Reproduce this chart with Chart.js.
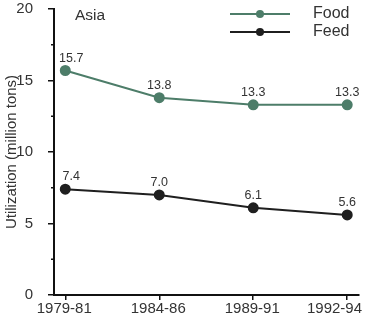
<!DOCTYPE html>
<html>
<head>
<meta charset="utf-8">
<script src="https://cdn.jsdelivr.net/npm/chart.js@4.4.1/dist/chart.umd.min.js"></script>
<style>
  html, body { margin: 0; padding: 0; background: #fff; }
  #wrap { width: 365px; height: 322px; }
</style>
</head>
<body>
<div id="wrap"><canvas id="chart" width="365" height="322"></canvas></div>
<script>
const periods = ['1979-81', '1984-86', '1989-91', '1992-94'];
const food = [15.7, 13.8, 13.3, 13.3];
const feed = [7.4, 7.0, 6.1, 5.6];
const yTicks = [0, 5, 10, 15, 20];

const foodColor = '#4d7d69';
const feedColor = '#1f1f1f';
const textColor = '#333';
const fontFamily = '"Liberation Sans", Arial, sans-serif';

function toPoints(arr) {
    return arr.map((v, i) => ({ x: i, y: v }));
}

// value labels, period labels, region label, short minor ticks and hand-placed legend
const annotate = {
    id: 'annotate',
    afterDatasetsDraw(chart) {
        const ctx = chart.ctx;
        const x = chart.scales.x;
        const y = chart.scales.y;
        ctx.save();

        // minor ticks on the y axis (halfway between the labelled ones)
        ctx.strokeStyle = '#111';
        ctx.lineWidth = 1.5;
        y.ticks.forEach(t => {
            if (yTicks.includes(t.value)) return;
            const py = y.getPixelForValue(t.value);
            ctx.beginPath();
            ctx.moveTo(y.right - 3, py);
            ctx.lineTo(y.right, py);
            ctx.stroke();
        });

        // period labels under the axis; the last one is kept inside the canvas
        ctx.fillStyle = textColor;
        ctx.font = '15px ' + fontFamily;
        ctx.textBaseline = 'middle';
        ctx.textAlign = 'center';
        periods.forEach((p, i) => {
            let px = x.getPixelForValue(i) - 1;
            const w = ctx.measureText(p).width;
            px = Math.min(px, chart.width - 3 - w / 2);
            ctx.fillText(p, px, x.top + 14);
        });

        ctx.font = '12.5px ' + fontFamily;
        ctx.textBaseline = 'bottom';
        chart.data.datasets.forEach((ds, di) => {
            chart.getDatasetMeta(di).data.forEach((pt, i) => {
                ctx.fillText(ds.data[i].y.toFixed(1), pt.x + (i === 0 ? 6 : 0), pt.y - 6);
            });
        });

        ctx.font = '15.5px ' + fontFamily;
        ctx.textAlign = 'left';
        ctx.textBaseline = 'middle';
        ctx.fillText('Asia', 75, 16);

        ctx.font = '16px ' + fontFamily;
        const items = [['Food', foodColor, 14], ['Feed', feedColor, 32]];
        items.forEach(([label, color, ly]) => {
            ctx.strokeStyle = color;
            ctx.lineWidth = 2;
            ctx.beginPath();
            ctx.moveTo(230, ly);
            ctx.lineTo(290, ly);
            ctx.stroke();
            ctx.fillStyle = color;
            ctx.beginPath();
            ctx.arc(260, ly, 4, 0, Math.PI * 2);
            ctx.fill();
            ctx.fillStyle = textColor;
            ctx.fillText(label, 313, ly);
        });
        ctx.restore();
    }
};

new Chart(document.getElementById('chart').getContext('2d'), {
    type: 'line',
    data: {
        datasets: [{
            label: 'Food',
            data: toPoints(food),
            borderColor: foodColor,
            backgroundColor: foodColor,
            borderWidth: 2,
            pointRadius: 4.5,
            fill: false
        }, {
            label: 'Feed',
            data: toPoints(feed),
            borderColor: feedColor,
            backgroundColor: feedColor,
            borderWidth: 2,
            pointRadius: 4.5,
            fill: false
        }]
    },
    options: {
        responsive: false,
        animation: false,
        layout: { padding: { top: 9, right: 6, left: 0, bottom: 0 } },
        plugins: {
            legend: { display: false },
            tooltip: { enabled: false }
        },
        scales: {
            x: {
                type: 'linear',
                min: -0.12,
                max: 3.12,
                afterBuildTicks: s => { s.ticks = periods.map((p, i) => ({ value: i })); },
                afterFit: s => { s.height = 27; s.paddingLeft = 0; s.paddingRight = 0; },
                ticks: { display: false },
                grid: { drawOnChartArea: false, drawTicks: true, tickLength: 5, color: '#111', lineWidth: 1.5 },
                border: { color: '#111', width: 2 }
            },
            y: {
                min: 0,
                max: 20,
                afterFit: s => { s.width = 54; s.paddingTop = 0; s.paddingBottom = 0; },
                ticks: {
                    stepSize: 2.5,
                    callback: v => yTicks.includes(v) ? v : '',
                    color: textColor,
                    font: { size: 15, family: fontFamily },
                    padding: 15
                },
                grid: {
                    drawOnChartArea: false,
                    drawTicks: true,
                    tickLength: 6,
                    color: ctx => (ctx.tick && yTicks.includes(ctx.tick.value)) ? '#111' : 'rgba(0,0,0,0)',
                    lineWidth: 1.5
                },
                border: { color: '#111', width: 2 },
                title: {
                    display: true,
                    text: 'Utilization (million tons)',
                    color: textColor,
                    font: { size: 15, family: fontFamily },
                    padding: { top: 3, bottom: 0 }
                }
            }
        }
    },
    plugins: [annotate]
});
</script>
</body>
</html>
